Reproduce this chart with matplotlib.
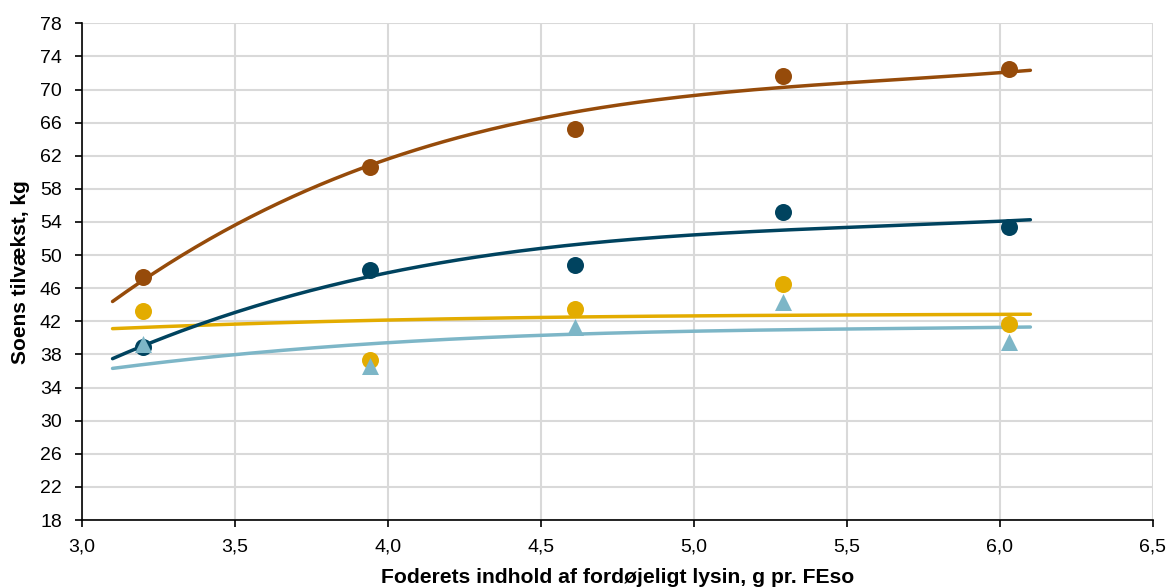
import numpy as np
import matplotlib
matplotlib.use("Agg")
import matplotlib.pyplot as plt

plt.rcParams['font.family'] = ['Liberation Sans', 'DejaVu Sans']

# Measured data points
x_pts = [3.20, 3.94, 4.61, 5.29, 6.03]
brown_pts = [47.4, 60.7, 65.2, 71.6, 72.5]
navy_pts = [38.9, 48.2, 48.8, 55.2, 53.4]
yellow_pts = [43.3, 37.3, 43.5, 46.5, 41.7]
lightblue_pts = [39.3, 36.6, 41.3, 44.3, 39.5]

# Trend curves, values
x_curve = [3.1, 3.5, 3.94, 4.61, 5.0, 5.29, 5.5, 6.1]
brown_curve = [44.2, 54.0, 60.8, 67.0, 69.1, 70.4, 71.1, 72.2]
navy_curve = [37.4, 43.2, 47.5, 51.0, 52.4, 53.1, 53.5, 54.2]
yellow_curve = [41.1, 41.7, 42.1, 42.5, 42.65, 42.75, 42.78, 42.85]
lightblue_curve = [36.3, 38.0, 39.3, 40.4, 40.8, 41.0, 41.1, 41.3]

xticks = [3.0, 3.5, 4.0, 4.5, 5.0, 5.5, 6.0, 6.5]
yticks = list(range(18, 79, 4))

C_BROWN = '#964B0A'
C_NAVY = '#00435F'
C_YELLOW = '#E3AC00'
C_LBLUE = '#7DB6C7'

fig = plt.figure(figsize=(11.69, 5.87), dpi=100)
ax = fig.add_axes([0.0701, 0.1141, 0.9160, 0.8462])

ax.set_xlim(3.0, 6.5)
ax.set_ylim(18, 78)
ax.set_xticks(xticks)
ax.set_yticks(yticks)
ax.set_xticklabels([f"{v:.1f}".replace('.', ',') for v in xticks], fontsize=14)
ax.set_yticklabels([str(v) for v in yticks], fontsize=14)

ax.grid(True, color='#d9d9d9', linewidth=1.5, zorder=0)
ax.set_axisbelow(True)
for s in ['top', 'right']:
    ax.spines[s].set_visible(False)
for s in ['left', 'bottom']:
    ax.spines[s].set_color('black')
    ax.spines[s].set_linewidth(1.2)
ax.tick_params(direction='out', length=5, width=1.2, colors='black')
ax.tick_params(axis='y', pad=9.5)
ax.tick_params(axis='x', pad=8.5)

xs = np.linspace(3.1, 6.1, 200)

def smooth(xc, yc):
    p = np.polyfit(xc, yc, 3)
    return np.polyval(p, xs)

for yc, col in [(lightblue_curve, C_LBLUE), (yellow_curve, C_YELLOW),
                (navy_curve, C_NAVY), (brown_curve, C_BROWN)]:
    ax.plot(xs, smooth(x_curve, yc), color=col, linewidth=2.5,
            solid_capstyle='round', zorder=2)

ax.scatter(x_pts, brown_pts, s=150, color=C_BROWN, zorder=3, linewidths=0)
ax.scatter(x_pts, navy_pts, s=150, color=C_NAVY, zorder=3, linewidths=0)
ax.scatter(x_pts, yellow_pts, s=150, color=C_YELLOW, zorder=3, linewidths=0)
ax.scatter(x_pts, lightblue_pts, s=150, color=C_LBLUE, marker='^', zorder=4, linewidths=0)

ax.set_xlabel('Foderets indhold af fordøjeligt lysin, g pr. FEso',
              fontsize=15.2, fontweight='bold')
ax.set_ylabel('Soens tilvækst, kg', fontsize=15, fontweight='bold')
ax.xaxis.set_label_coords(0.5, -0.0975)
ax.yaxis.set_label_coords(-0.0486, 0.5)

fig.savefig('out.png', dpi=100)
